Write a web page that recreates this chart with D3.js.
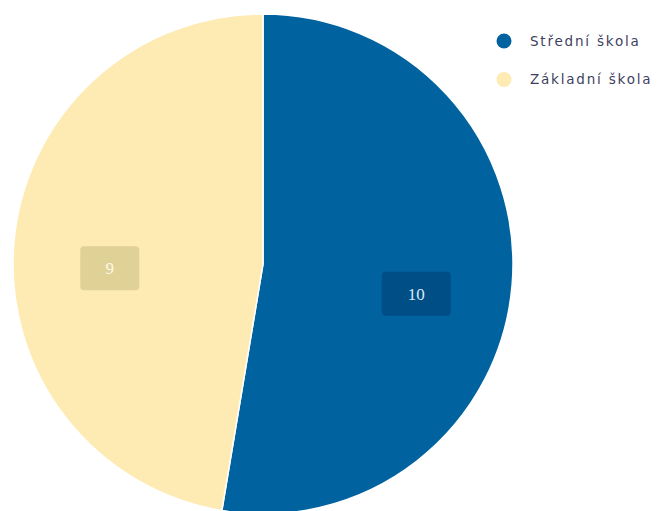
<!DOCTYPE html>
<html><head><meta charset="utf-8">
<script src="https://cdn.jsdelivr.net/npm/d3@7"></script>
<style>body{margin:0;background:#fff;}svg{display:block;}</style>
</head><body>
<svg id="chart" width="659" height="511"></svg>
<script>
const categories = ["Střední škola", "Základní škola"];
const values = [10, 9];
const colors = ["#0063a0", "#feeab3"];
const labelBoxColors = ["#004e86", "#e0d197"];
const labelTextColors = ["#dbe9f5", "#fff8e4"];

const svg = d3.select("#chart");
const cx = 263, cy = 264, r = 250;
const g = svg.append("g").attr("transform", `translate(${cx},${cy})`);
const pie = d3.pie().sort(null).value(d => d)(values);
const arc = d3.arc().innerRadius(0).outerRadius(r);
g.selectAll("path.slice").data(pie).join("path")
  .attr("class", "slice")
  .attr("d", arc)
  .attr("fill", (d, i) => colors[i])
  .attr("stroke", "#fff").attr("stroke-width", 1.5);

const labelArc = d3.arc().innerRadius(r * 0.615).outerRadius(r * 0.615);
const lg = g.selectAll("g.lbl").data(pie).join("g").attr("class", "lbl")
  .attr("transform", d => { const c = labelArc.centroid(d); return `translate(${c[0]},${c[1] + 17})`; });
lg.append("rect")
  .attr("x", d => String(d.data).length > 1 ? -34.5 : -29.5)
  .attr("width", d => String(d.data).length > 1 ? 69 : 59)
  .attr("y", -22).attr("height", 44).attr("rx", 4)
  .attr("fill", (d, i) => labelBoxColors[i]);
lg.append("text")
  .attr("text-anchor", "middle").attr("dy", "0.35em")
  .attr("font-family", "'Liberation Serif', 'DejaVu Serif', serif")
  .attr("font-size", 17)
  .attr("fill", (d, i) => labelTextColors[i])
  .text(d => d.data);

const legend = svg.append("g").attr("transform", "translate(504,41)");
const items = legend.selectAll("g").data(categories).join("g")
  .attr("transform", (d, i) => `translate(0,${i * 38.5})`);
items.append("circle").attr("r", 7.5).attr("fill", (d, i) => colors[i]);
items.append("text").attr("x", 26).attr("dy", "0.36em")
  .attr("font-family", "'DejaVu Sans', sans-serif")
  .attr("font-size", 13.5).attr("letter-spacing", 1.8)
  .attr("fill", "#3e3f60").text(d => d);
</script>
</body></html>
